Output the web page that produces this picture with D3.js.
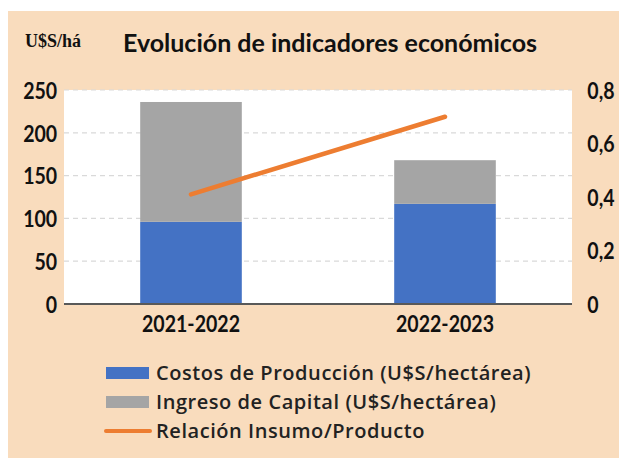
<!DOCTYPE html>
<html>
<head>
<meta charset="utf-8">
<script src="https://cdn.jsdelivr.net/npm/d3@7/dist/d3.min.js"></script>
<style>
  html, body { margin: 0; padding: 0; background: #ffffff; }
  svg { display: block; }
</style>
</head>
<body>
<svg id="chart" width="619" height="458"></svg>
<script>
// Campaigns and values per hectare
const campaigns = ["2021-2022", "2022-2023"];
const costosProduccion = [96, 117];      // U$S/hectárea
const ingresoCapital = [140, 51];        // U$S/hectárea (stacked on top of costs)
const relacionInsumoProducto = [0.41, 0.70];

const leftTicks = [0, 50, 100, 150, 200, 250];
const rightTicks = [0, 0.2, 0.4, 0.6, 0.8];

const seriesNames = [
  "Costos de Producción (U$S/hectárea)",
  "Ingreso de Capital (U$S/hectárea)",
  "Relación Insumo/Producto"
];
const colors = { costos: "#4472C4", ingreso: "#A5A5A5", relacion: "#ED7D31" };

const svg = d3.select("#chart");
const numFont = "Lato, sans-serif";
const narrow = "scale(0.85,1)";

// background panel
svg.append("rect").attr("x", 8).attr("y", 11).attr("width", 611).attr("height", 447)
  .attr("fill", "#F9DCBD");

const plot = { left: 64, right: 572, top: 90, bottom: 304 };

svg.append("rect").attr("x", plot.left).attr("y", plot.top)
  .attr("width", plot.right - plot.left).attr("height", plot.bottom - plot.top)
  .attr("fill", "#ffffff");

const x = d3.scaleBand().domain(campaigns).range([plot.left, plot.right])
  .paddingInner(0.6).paddingOuter(0.3);
const yL = d3.scaleLinear().domain([0, 250]).range([plot.bottom, plot.top]);
const yR = d3.scaleLinear().domain([0, 0.8]).range([plot.bottom, plot.top]);

// dashed gridlines
svg.append("g").selectAll("line").data(leftTicks.filter(d => d > 0)).join("line")
  .attr("x1", plot.left).attr("x2", plot.right)
  .attr("y1", d => yL(d)).attr("y2", d => yL(d))
  .attr("stroke", "#D9D9D9").attr("stroke-width", 1.2).attr("stroke-dasharray", "5,4");

// stacked bars
const stackData = campaigns.map((c, i) => ({ campaign: c, costos: costosProduccion[i], ingreso: ingresoCapital[i] }));
const stacked = d3.stack().keys(["costos", "ingreso"])(stackData);
svg.append("g").selectAll("g").data(stacked).join("g")
  .attr("fill", d => colors[d.key])
  .selectAll("rect").data(d => d).join("rect")
  .attr("x", d => x(d.data.campaign))
  .attr("width", x.bandwidth())
  .attr("y", d => yL(d[1]))
  .attr("height", d => yL(d[0]) - yL(d[1]));

// baseline
svg.append("line").attr("x1", plot.left).attr("x2", plot.right)
  .attr("y1", plot.bottom).attr("y2", plot.bottom)
  .attr("stroke", "#595959").attr("stroke-width", 2);

// ratio line on the secondary axis
const line = d3.line().x((d, i) => x(campaigns[i]) + x.bandwidth() / 2).y(d => yR(d));
svg.append("path").datum(relacionInsumoProducto).attr("d", line)
  .attr("fill", "none").attr("stroke", colors.relacion)
  .attr("stroke-width", 4.5).attr("stroke-linecap", "round");

function styleNums(sel) {
  sel.attr("font-family", numFont).attr("font-weight", 700)
    .attr("font-size", 23).attr("fill", "#111").attr("transform", narrow);
}

// left axis
const axL = svg.append("g").attr("transform", `translate(${plot.left},0)`)
  .call(d3.axisLeft(yL).tickValues(leftTicks).tickSize(0).tickPadding(8));
axL.select(".domain").remove();
axL.selectAll("text").call(styleNums).attr("dy", "0.36em");

// right axis
const fmtR = d => d === 0 ? "0" : d3.format(".1f")(d).replace(".", ",");
const axR = svg.append("g").attr("transform", `translate(${plot.right},0)`)
  .call(d3.axisRight(yR).tickValues(rightTicks).tickFormat(fmtR).tickSize(0).tickPadding(18));
axR.select(".domain").remove();
axR.selectAll("text").call(styleNums).attr("dy", "0.36em");

// category axis
const axX = svg.append("g").attr("transform", `translate(0,${plot.bottom})`)
  .call(d3.axisBottom(x).tickSize(0).tickPadding(12));
axX.select(".domain").remove();
axX.selectAll("text").call(styleNums).attr("dy", "0.71em");

// title and unit label
svg.append("text").attr("x", 330).attr("y", 52).attr("text-anchor", "middle")
  .attr("font-family", "Lato, sans-serif").attr("font-weight", 700).attr("font-size", 25)
  .attr("fill", "#111").text("Evolución de indicadores económicos");
svg.append("text").attr("x", 25).attr("y", 47)
  .attr("font-family", "'Liberation Serif', serif").attr("font-weight", 700).attr("font-size", 18)
  .attr("fill", "#111").text("U$S/há");

// legend
const legend = svg.append("g");
const rows = [
  { name: seriesNames[0], type: "rect", color: colors.costos },
  { name: seriesNames[1], type: "rect", color: colors.ingreso },
  { name: seriesNames[2], type: "line", color: colors.relacion }
];
rows.forEach((r, i) => {
  const cy = 373 + i * 29;
  if (r.type === "rect") {
    legend.append("rect").attr("x", 106).attr("y", cy - 6).attr("width", 43).attr("height", 12).attr("fill", r.color);
  } else {
    legend.append("line").attr("x1", 106).attr("x2", 150).attr("y1", cy).attr("y2", cy)
      .attr("stroke", r.color).attr("stroke-width", 4).attr("stroke-linecap", "round");
  }
  legend.append("text").attr("x", 156).attr("y", cy).attr("dy", "0.35em")
    .attr("font-family", "'Open Sans', sans-serif").attr("font-weight", 600).attr("font-size", 20)
    .attr("fill", "#222").attr("letter-spacing", 0.55).text(r.name);
});
</script>
</body>
</html>
